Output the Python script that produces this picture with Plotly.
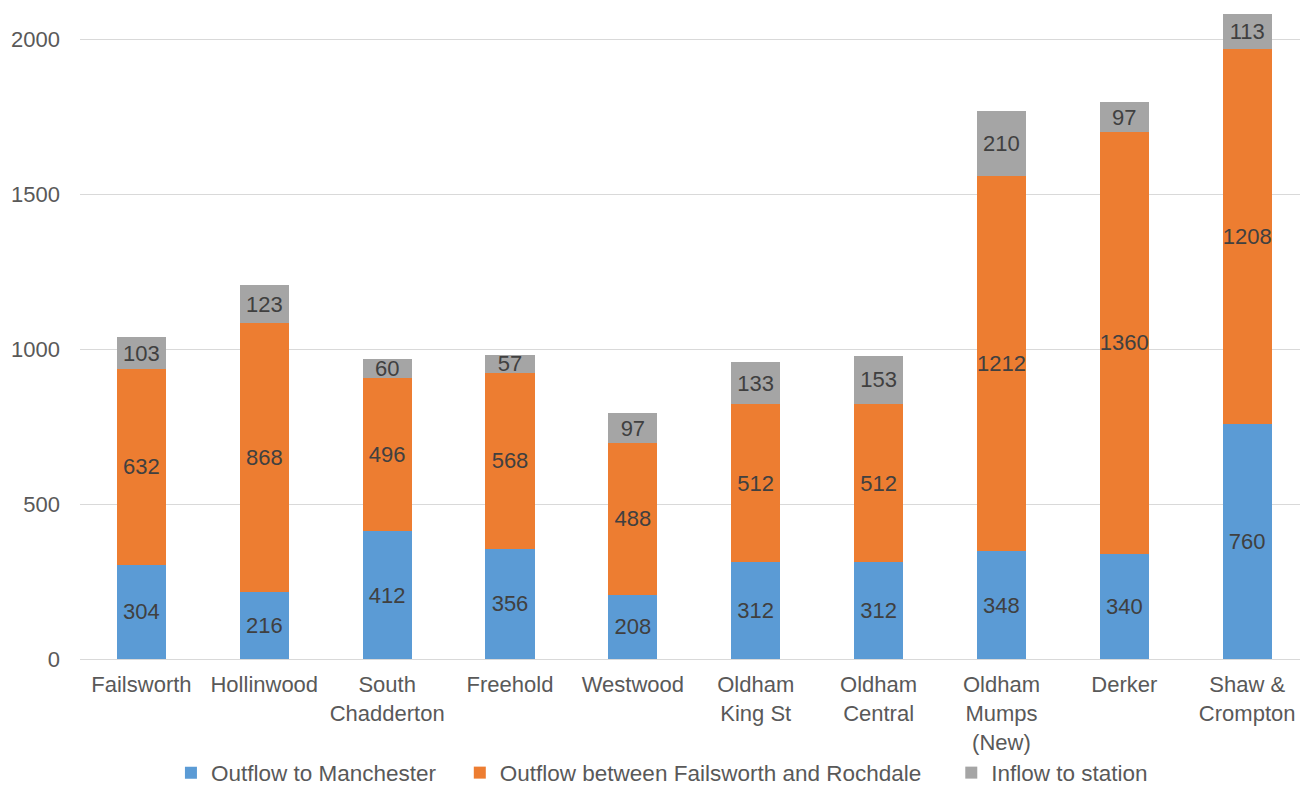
import plotly.graph_objects as go

categories = ["Failsworth", "Hollinwood", "South<br>Chadderton", "Freehold", "Westwood",
              "Oldham<br>King St", "Oldham<br>Central", "Oldham<br>Mumps<br>(New)", "Derker",
              "Shaw &<br>Crompton"]
outflow_manchester = [304, 216, 412, 356, 208, 312, 312, 348, 340, 760]
outflow_fail_roch = [632, 868, 496, 568, 488, 512, 512, 1212, 1360, 1208]
inflow_station = [103, 123, 60, 57, 97, 133, 153, 210, 97, 113]

NB = "\u00a0"
series = [
    ("Outflow to Manchester" + NB * 3, outflow_manchester, "#5B9BD5"),
    ("Outflow between Failsworth and Rochdale" + NB * 4, outflow_fail_roch, "#ED7D31"),
    ("Inflow to station", inflow_station, "#A5A5A5"),
]

FONT = "Liberation Sans, Arial, sans-serif"
TXT = "#595959"
FS = 22

fig = go.Figure()
for name, vals, col in series:
    fig.add_trace(go.Bar(
        x=list(range(len(categories))), y=vals, name=name,
        marker=dict(color=col, line=dict(width=0)),
        text=[str(v) for v in vals], textposition="inside",
        insidetextanchor="middle", textangle=0, constraintext="none",
        textfont=dict(family=FONT, size=FS, color="#404040"),
        hoverinfo="skip",
    ))

fig.update_layout(
    barmode="stack", bargap=0.6,
    width=1300, height=786,
    margin=dict(l=80, r=0, t=8, b=127),
    paper_bgcolor="white", plot_bgcolor="white",
    font=dict(family=FONT, size=FS, color=TXT),
    uniformtext=dict(minsize=FS, mode="show"),
    showlegend=True,
    legend=dict(orientation="h", x=0.477, xanchor="center",
                yref="container", y=1 - 773 / 786, yanchor="middle",
                bgcolor="rgba(0,0,0,0)",
                font=dict(family=FONT, size=22.5, color=TXT), traceorder="normal"),
)
fig.update_xaxes(
    tickmode="array", tickvals=list(range(len(categories))), ticktext=categories,
    range=[-0.5, 9.43], showgrid=False, showline=True, linecolor="#D9D9D9", linewidth=1,
    ticks="", tickfont=dict(family=FONT, size=FS, color=TXT), ticklabelstandoff=6,
    automargin=False,
)
fig.update_yaxes(
    range=[0, 2101], tickvals=[0, 500, 1000, 1500, 2000], showgrid=True,
    gridcolor="#D9D9D9", gridwidth=1, zeroline=False, showline=False,
    tickfont=dict(family=FONT, size=FS, color=TXT), ticklabelstandoff=19,
    automargin=False,
)
fig.write_html("out.html", config={"displayModeBar": False},
               post_script="document.body.style.margin='0';document.body.style.overflow='hidden';")
